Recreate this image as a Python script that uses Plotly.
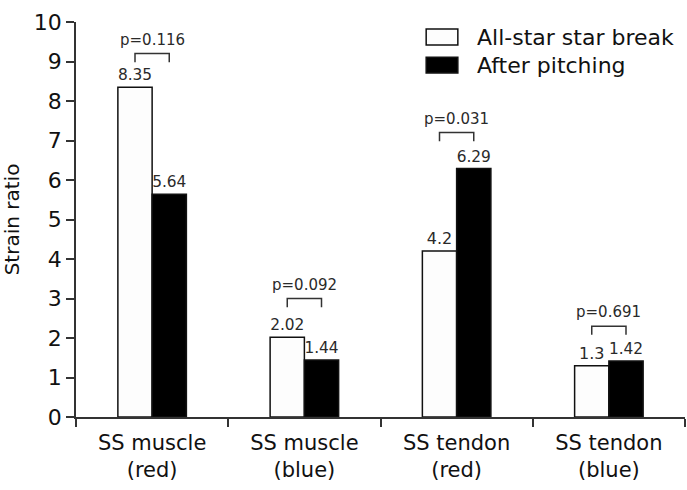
import plotly.graph_objects as go

categories = ["SS muscle<br>(red)", "SS muscle<br>(blue)", "SS tendon<br>(red)", "SS tendon<br>(blue)"]
series_names = ["All-star star break", "After pitching"]
before_vals = [8.35, 2.02, 4.2, 1.3]
after_vals = [5.64, 1.44, 6.29, 1.42]
before_text = ["8.35", "2.02", "4.2", "1.3"]
after_text = ["5.64", "1.44", "6.29", "1.42"]
p_labels = ["p=0.116", "p=0.092", "p=0.031", "p=0.691"]
bracket_tops = [9.2, 3.0, 7.2, 2.3]
y_ticks = list(range(0, 11))

FONT = "DejaVu Sans"
fig = go.Figure()
fig.add_trace(go.Bar(
    x=categories, y=before_vals, name=series_names[0],
    marker=dict(color="#fdfdfd", line=dict(color="#111", width=1.5)),
    text=before_text, textposition="outside", cliponaxis=False,
    textfont=dict(family=FONT, size=16, color="#2a2a2a"),
))
fig.add_trace(go.Bar(
    x=categories, y=after_vals, name=series_names[1],
    marker=dict(color="#000", line=dict(color="#111", width=1.5)),
    text=after_text, textposition="outside", cliponaxis=False,
    textfont=dict(family=FONT, size=16, color="#2a2a2a"),
))

half = 0.1125
drop = 0.22
for i, (top, lab) in enumerate(zip(bracket_tops, p_labels)):
    fig.add_shape(type="path",
                  path=f"M {i-half},{top-drop} L {i-half},{top} L {i+half},{top} L {i+half},{top-drop}",
                  xref="x", yref="y", line=dict(color="#333", width=1.5))
    fig.add_annotation(x=i, y=top, xref="x", yref="y", text=lab, showarrow=False,
                       yanchor="bottom", yshift=3,
                       font=dict(family=FONT, size=15, color="#2a2a2a"))

# legend drawn manually
leg = [(series_names[0], "#fdfdfd", 0.942, 0.982, 0.962), (series_names[1], "#000", 0.871, 0.911, 0.891)]
for name, col, y0, y1, yc in leg:
    fig.add_shape(type="rect", xref="paper", yref="paper", x0=0.575, x1=0.627, y0=y0, y1=y1,
                  fillcolor=col, line=dict(color="#111", width=1.5))
    fig.add_annotation(xref="paper", yref="paper", x=0.655, y=yc, text=name, showarrow=False,
                       xanchor="left", yanchor="middle",
                       font=dict(family=FONT, size=22, color="#111"))

fig.update_layout(
    width=687, height=490,
    margin=dict(l=76, r=2, t=22, b=73),
    paper_bgcolor="white", plot_bgcolor="white",
    barmode="group", bargap=0.55, bargroupgap=0,
    showlegend=False,
    font=dict(family=FONT, color="#111"),
)
fig.update_yaxes(
    range=[0, 10], tickvals=y_ticks, showgrid=False, zeroline=False,
    showline=True, linecolor="#333", linewidth=1.5,
    ticks="outside", ticklen=8, tickcolor="#333", tickwidth=1.5,
    tickfont=dict(family=FONT, size=22, color="#111"),
    title=dict(text="Strain ratio", font=dict(family=FONT, size=20, color="#111"), standoff=10),
)
fig.update_xaxes(
    range=[-0.5, 3.5], showgrid=False, zeroline=False,
    showline=True, linecolor="#333", linewidth=1.5,
    ticks="outside", tickson="boundaries", ticklen=8, tickcolor="#333", tickwidth=1.5,
    ticklabelstandoff=6,
    tickfont=dict(family=FONT, size=21, color="#111"),
)
fig.write_html("out.html")
